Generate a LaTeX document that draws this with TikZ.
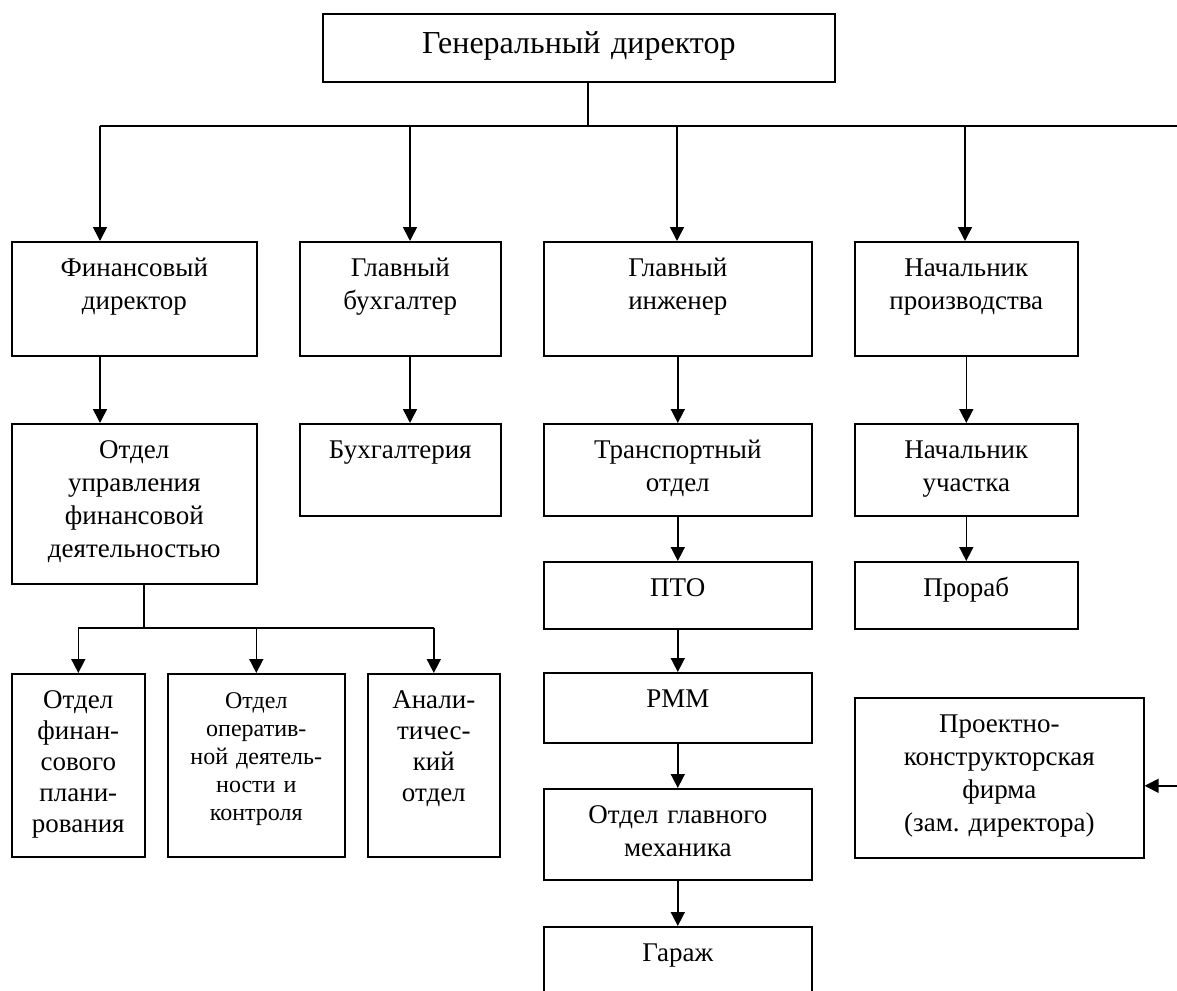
\documentclass[tikz,border=0pt]{standalone}
\usepackage{fontspec}
\setmainfont{Liberation Serif}
\usetikzlibrary{arrows.meta}
\frenchspacing

\newcommand{\orgunit}[7][]{%
  \node[orgbox, #1, text width={(#5-#3)*0.5pt}, text depth={(#6-#4)*0.5pt-17.5pt}]
    (#2) at (#3,#4) {#7};
}

\begin{document}
\begin{tikzpicture}[
  x=0.5pt,
  y=-0.5pt,
  orgbox/.style={draw, line width=0.8pt, anchor=north west, inner sep=0pt,
    align=center, text height=17.5pt, font=\fontsize{13.5}{16.5}\selectfont},
  link/.style={line width=0.8pt},
  arr/.style={line width=0.8pt, -{Triangle[length=7pt, width=7pt]}}
]
  \useasboundingbox (0,0) rectangle (1177,990);
  \clip (0,0) rectangle (1177,990);

  \node[orgbox, font=\fontsize{16}{19}\selectfont, text width=256pt,
    text height=20pt, text depth=14pt] (gd) at (322,13) {Генеральный директор};

  \orgunit{fd}{11}{241}{256}{355}{Финансовый\\директор}
  \orgunit{gb}{299}{241}{500}{355}{Главный\\бухгалтер}
  \orgunit{gi}{543}{241}{811}{355}{Главный\\инженер}
  \orgunit{np}{854}{241}{1077}{355}{Начальник\\производства}

  \orgunit{oufd}{11}{423}{256}{583}{Отдел\\управления\\финансовой\\деятельностью}
  \orgunit{bukh}{299}{423}{500}{515}{Бухгалтерия}
  \orgunit{to}{543}{423}{811}{515}{Транспортный\\отдел}
  \orgunit{nu}{854}{423}{1077}{515}{Начальник\\участка}

  \orgunit{pto}{543}{561}{811}{628}{ПТО}
  \orgunit{prorab}{854}{561}{1077}{628}{Прораб}
  \orgunit{rmm}{543}{672}{811}{742}{РММ}
  \orgunit{ogm}{543}{788}{811}{879}{Отдел главного\\механика}
  \orgunit{garage}{543}{926}{811}{1010}{Гараж}

  \orgunit[font=\fontsize{13.5}{15.4}\selectfont]{ofp}{11}{673}{144}{856}%
    {Отдел\\финан-\\сового\\плани-\\рования}
  \orgunit[font=\fontsize{12}{13.9}\selectfont]{oodk}{167}{673}{344}{856}%
    {Отдел\\оператив-\\ной деятель-\\ности и\\контроля}
  \orgunit[font=\fontsize{13.5}{15.4}\selectfont]{ao}{367}{673}{499}{856}%
    {Анали-\\тичес-\\кий\\отдел}

  \orgunit{pkf}{854}{697}{1143}{857}%
    {Проектно-\\конструкторская\\фирма\\(зам. директора)}

  % general director bus
  \coordinate (bus) at (588,126);
  \coordinate (busend) at (1195,126);
  \draw[link] (gd.south -| bus) -- (bus);
  \foreach \name/\x in {fd/100, gb/410, gi/677, np/965} {
    \coordinate (drop-\name) at (\x,126);
    \draw[arr] (drop-\name) -- (drop-\name |- \name.north);
  }
  \draw[link] (drop-fd) -- (busend);
  \draw[arr] (busend) |- ([yshift=-4pt]pkf.east);

  % columns
  \draw[arr] (fd.south -| drop-fd) -- (oufd.north -| drop-fd);
  \draw[arr] (gb.south -| drop-gb) -- (bukh.north -| drop-gb);
  \draw[arr] (gi.south) -- (to.north);
  \draw[arr] (to.south) -- (pto.north);
  \draw[arr] (pto.south) -- (rmm.north);
  \draw[arr] (rmm.south) -- (ogm.north);
  \draw[arr] (ogm.south) -- (garage.north);
  \draw[arr] (np.south) -- (nu.north);
  \draw[arr] (nu.south) -- (prorab.north);

  % financial departments
  \coordinate (subbus) at (144,628);
  \draw[link] (oufd.south -| subbus) -- (subbus);
  \draw[link] (subbus -| ofp.north) -- (subbus -| ao.north);
  \foreach \name in {ofp, oodk, ao}
    \draw[arr] (subbus -| \name.north) -- (\name.north);
\end{tikzpicture}
\end{document}
